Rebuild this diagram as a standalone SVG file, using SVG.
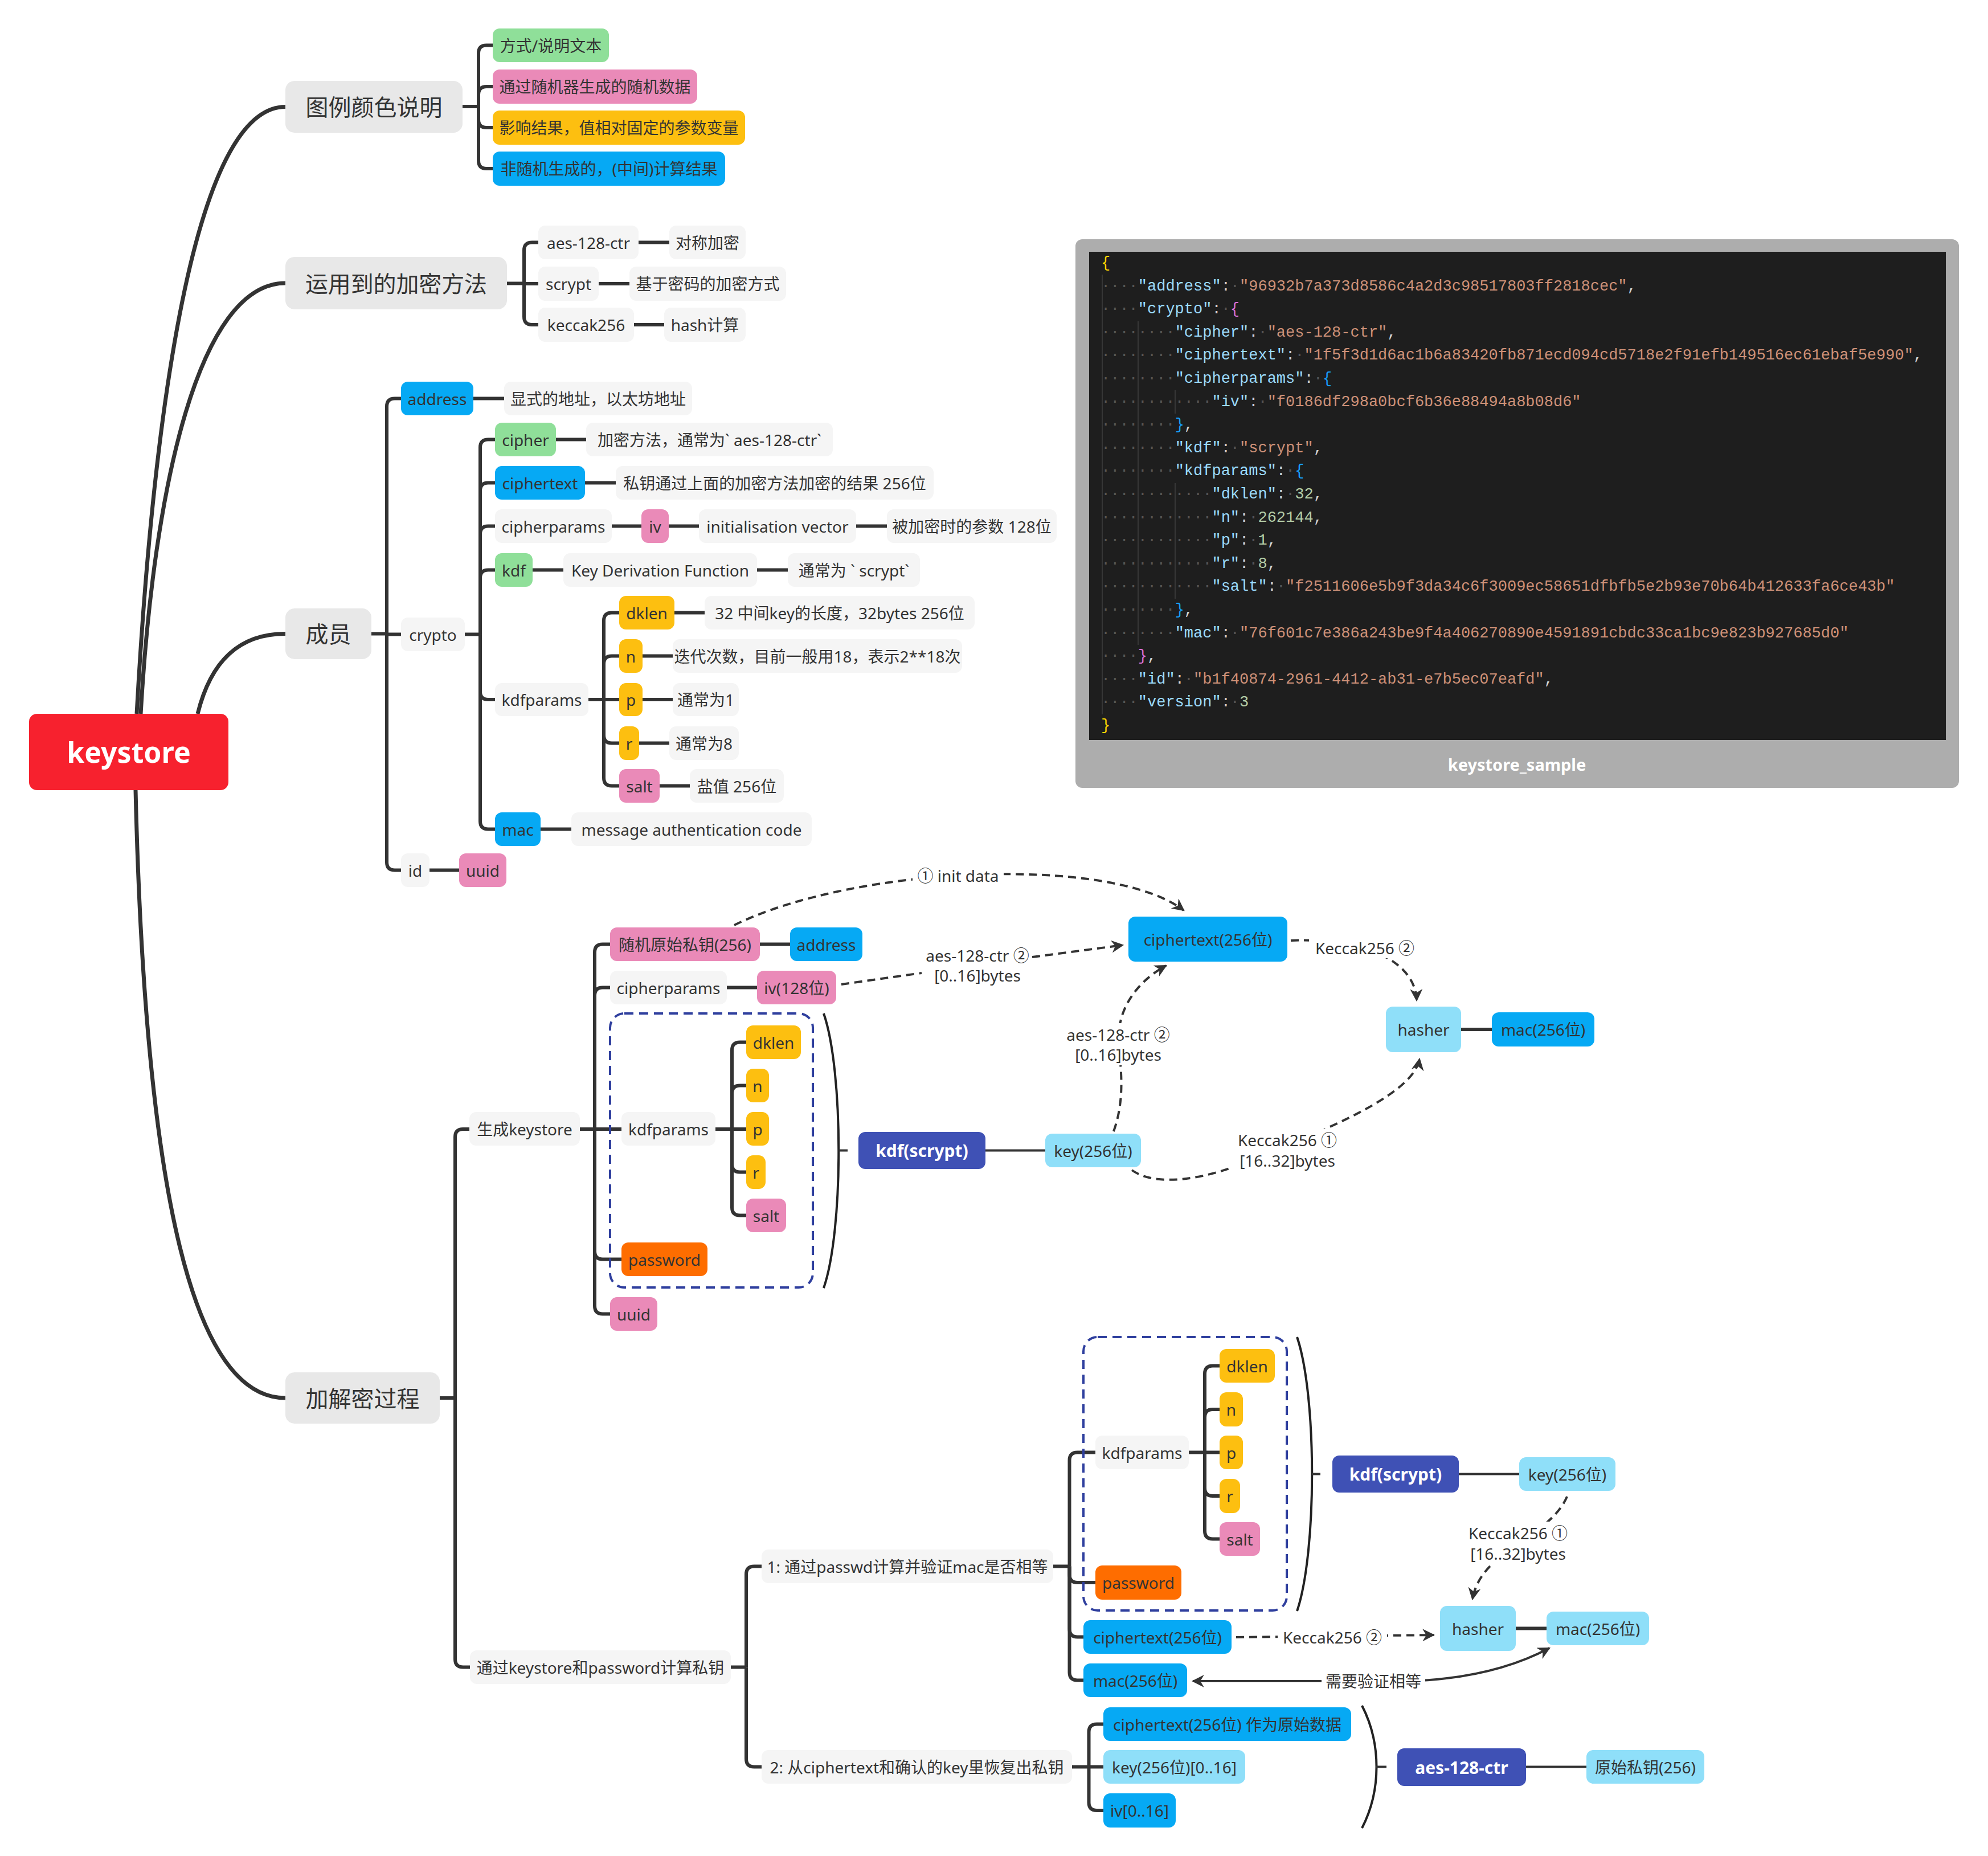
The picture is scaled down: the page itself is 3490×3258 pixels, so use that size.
<svg xmlns="http://www.w3.org/2000/svg" width="3490" height="3258" viewBox="0 0 3490 3258">
<defs>
<style>
.t{font-family:"Noto Sans","Noto Sans CJK SC",sans-serif;fill:#333;dominant-baseline:central;text-anchor:middle;font-size:28px}
.f40{font-size:40px}
.lb{font-family:"Noto Sans","Noto Sans CJK SC",sans-serif;fill:#333;dominant-baseline:central;text-anchor:middle;font-size:28px}
.wb{fill:#fff;font-weight:bold;font-size:30px}
.ln{fill:none;stroke:#333;stroke-width:6;stroke-linejoin:round}
.rt{fill:none;stroke:#333;stroke-width:7}
.th{fill:none;stroke:#333;stroke-width:4}
.ds{fill:none;stroke:#333;stroke-width:4;stroke-dasharray:14 9}
.par{fill:none;stroke:#222;stroke-width:4}
.box{fill:none;stroke:#2f3f9e;stroke-width:4;stroke-dasharray:16 10}
.bg{fill:#fff}
.cg{fill:#8fdf99}.cp{fill:#ea8ab8}.cy{fill:#fdbf10}.cb{fill:#06a9f4}.co{fill:#fe6d00}.clb{fill:#8fdff9}.ci{fill:#3f51b5}.cl{fill:#f5f5f5}.c1{fill:#e8e8e8}.cr{fill:#f7212e}
.code{font-family:"Liberation Mono","DejaVu Sans Mono",monospace;font-size:27px;dominant-baseline:central}
.k{fill:#9cdcfe}.s{fill:#ce9178}.n{fill:#b5cea8}.p{fill:#d4d4d4}.w{fill:#555}.by{fill:#ffd700}.bm{fill:#da70d6}.bb{fill:#179fff}
.gd{stroke:#404040;stroke-width:1.5}
</style>
<marker id="ah" viewBox="0 0 10 10" refX="9" refY="5" markerWidth="22" markerHeight="22" markerUnits="userSpaceOnUse" orient="auto-start-reverse"><path d="M0 0L10 5L0 10L3 5z" fill="#333"/></marker>
</defs>
<rect width="3490" height="3258" fill="#fff"/>

<g id="connectors">
<path class="rt" d="M240 1253C265 800 330 187.5 501 187.5"/>
<path class="rt" d="M247 1253C270 850 350 497 501 497"/>
<path class="rt" d="M347 1253C370 1160 420 1112.5 501 1112.5"/>
<path class="rt" d="M238 1387C255 2100 340 2454 501 2454"/>
<path class="ln" d="M812 187H840"/>
<path class="ln" d="M840 187V93.5Q840 79.5 854 79.5H865"/>
<path class="ln" d="M840 187V166Q840 152 854 152H865"/>
<path class="ln" d="M840 187V210Q840 224 854 224H865"/>
<path class="ln" d="M840 187V282Q840 296 854 296H865"/>
<path class="ln" d="M890 497.5H920"/>
<path class="ln" d="M920 497.5V439.5Q920 425.5 934 425.5H945"/>
<path class="ln" d="M920 498H945"/>
<path class="ln" d="M920 497.5V556Q920 570 934 570H945"/>
<path class="ln" d="M1121 425.5H1175M1051 498H1105M1113 570H1166"/>
<path class="ln" d="M652 1112.5H679"/>
<path class="ln" d="M679 1112.5V713.5Q679 699.5 693 699.5H704"/>
<path class="ln" d="M679 1113.5H704"/>
<path class="ln" d="M679 1112.5V1513.5Q679 1527.5 693 1527.5H704"/>
<path class="ln" d="M831 699.5H885M754 1527.5H806"/>
<path class="ln" d="M816 1113.5H843"/>
<path class="ln" d="M843 1113.5V785.5Q843 771.5 857 771.5H869"/>
<path class="ln" d="M843 1113.5V861.5Q843 847.5 857 847.5H869"/>
<path class="ln" d="M843 1113.5V937.5Q843 923.5 857 923.5H869"/>
<path class="ln" d="M843 1113.5V1014.5Q843 1000.5 857 1000.5H869"/>
<path class="ln" d="M843 1113.5V1214Q843 1228 857 1228H869"/>
<path class="ln" d="M843 1113.5V1441.5Q843 1455.5 857 1455.5H869"/>
<path class="ln" d="M976 771.5H1029M1027 847.5H1081M1074 923.5H1126M1174 923.5H1227M1503 923.5H1557M935 1000.5H989M1329 1000.5H1383M949 1455.5H1003"/>
<path class="ln" d="M1033 1228H1060"/>
<path class="ln" d="M1060 1228V1089.5Q1060 1075.5 1074 1075.5H1087"/>
<path class="ln" d="M1060 1228V1165.5Q1060 1151.5 1074 1151.5H1087"/>
<path class="ln" d="M1060 1228H1087"/>
<path class="ln" d="M1060 1228V1290.5Q1060 1304.5 1074 1304.5H1087"/>
<path class="ln" d="M1060 1228V1365.5Q1060 1379.5 1074 1379.5H1087"/>
<path class="ln" d="M1184 1075.5H1237M1128 1151.5H1181M1128 1228H1181M1122 1304.5H1175M1158 1379.5H1211"/>
<path class="ln" d="M772 2454H799"/>
<path class="ln" d="M799 2454V1996Q799 1982 813 1982H824"/>
<path class="ln" d="M799 2454V2912.5Q799 2926.5 813 2926.5H825"/>
<path class="ln" d="M1018 1982H1044"/>
<path class="ln" d="M1044 1982V1671.5Q1044 1657.5 1058 1657.5H1071"/>
<path class="ln" d="M1044 1982V1747.5Q1044 1733.5 1058 1733.5H1071"/>
<path class="ln" d="M1044 1982H1091"/>
<path class="ln" d="M1044 1982V2196.5Q1044 2210.5 1058 2210.5H1091"/>
<path class="ln" d="M1044 1982V2292.5Q1044 2306.5 1058 2306.5H1071"/>
<path class="ln" d="M1334 1657.5H1387M1276 1733.5H1329"/>
<path class="ln" d="M1256 1982H1285"/>
<path class="ln" d="M1285 1982V1843.5Q1285 1829.5 1299 1829.5H1310"/>
<path class="ln" d="M1285 1982V1919.5Q1285 1905.5 1299 1905.5H1310"/>
<path class="ln" d="M1285 1982H1310"/>
<path class="ln" d="M1285 1982V2043.5Q1285 2057.5 1299 2057.5H1310"/>
<path class="ln" d="M1285 1982V2119.5Q1285 2133.5 1299 2133.5H1310"/>
<path class="par" d="M1446 1779C1481 1880 1481 2160 1446 2261"/>
<path class="th" d="M1472 2019.5H1488"/>
<path class="th" d="M1730 2019.5H1835"/>
<path class="ln" d="M2565 1807H2619"/>
<path class="ln" d="M1283 2926.5H1310"/>
<path class="ln" d="M1310 2926.5V2763.5Q1310 2749.5 1324 2749.5H1337"/>
<path class="ln" d="M1310 2926.5V3087.5Q1310 3101.5 1324 3101.5H1337"/>
<path class="ln" d="M1849 2749.5H1877.5"/>
<path class="ln" d="M1877.5 2749.5V2563.5Q1877.5 2549.5 1891.5 2549.5H1923"/>
<path class="ln" d="M1877.5 2749.5V2764Q1877.5 2778 1891.5 2778H1923"/>
<path class="ln" d="M1877.5 2749.5V2859.5Q1877.5 2873.5 1891.5 2873.5H1902"/>
<path class="ln" d="M1877.5 2749.5V2935.5Q1877.5 2949.5 1891.5 2949.5H1902"/>
<path class="ln" d="M2087 2549.5H2115"/>
<path class="ln" d="M2115 2549.5V2411.5Q2115 2397.5 2129 2397.5H2141"/>
<path class="ln" d="M2115 2549.5V2488Q2115 2474 2129 2474H2141"/>
<path class="ln" d="M2115 2549.5H2141"/>
<path class="ln" d="M2115 2549.5V2612Q2115 2626 2129 2626H2141"/>
<path class="ln" d="M2115 2549.5V2687.5Q2115 2701.5 2129 2701.5H2141"/>
<path class="par" d="M2277 2347C2312 2450 2312 2725 2277 2828"/>
<path class="th" d="M2303 2587.5H2318"/>
<path class="th" d="M2561 2587.5H2667"/>
<path class="ln" d="M2661 2858.5H2715"/>
<path class="ln" d="M1882 3101.5H1911.5"/>
<path class="ln" d="M1911.5 3101.5V3040.5Q1911.5 3026.5 1925.5 3026.5H1937"/>
<path class="ln" d="M1911.5 3101.5H1937"/>
<path class="ln" d="M1911.5 3101.5V3164Q1911.5 3178 1925.5 3178H1937"/>
<path class="par" d="M2391 2994C2425 3060 2425 3143 2391 3209"/>
<path class="th" d="M2416 3101.5H2434"/>
<path class="th" d="M2679 3101.5H2785"/>
<path class="ds" d="M1289 1624C1500 1520 1950 1500 2078 1598" marker-end="url(#ah)"/>
<rect class="bg" x="1602" y="1517" width="160" height="40"/>
<text class="lb" x="1682" y="1537">① init data</text>
<path class="ds" d="M1477 1728L1618 1708"/>
<path class="ds" d="M1812 1680L1971 1659" marker-end="url(#ah)"/>
<text class="lb" x="1716" y="1677">aes-128-ctr ②</text>
<text class="lb" x="1716" y="1712">[0..16]bytes</text>
<path class="ds" d="M1955 1986C1975 1930 1968 1880 1964 1830C1960 1760 2010 1715 2047 1695" marker-end="url(#ah)"/>
<rect class="bg" x="1860" y="1796" width="205" height="74"/>
<text class="lb" x="1963" y="1816">aes-128-ctr ②</text>
<text class="lb" x="1963" y="1851">[0..16]bytes</text>
<path class="ds" d="M2266 1651C2400 1645 2485 1690 2487 1756" marker-end="url(#ah)"/>
<rect class="bg" x="2298" y="1645" width="196" height="37"/>
<text class="lb" x="2396" y="1664">Keccak256 ②</text>
<path class="ds" d="M1987 2054C2030 2085 2120 2070 2200 2035S2480 1930 2492 1859" marker-end="url(#ah)"/>
<rect class="bg" x="2160" y="1981" width="200" height="75"/>
<text class="lb" x="2260" y="2001">Keccak256 ①</text>
<text class="lb" x="2260" y="2037">[16..32]bytes</text>
<path class="ds" d="M2751 2627C2720 2700 2600 2720 2585 2807" marker-end="url(#ah)"/>
<rect class="bg" x="2570" y="2671" width="190" height="74"/>
<text class="lb" x="2665" y="2691">Keccak256 ①</text>
<text class="lb" x="2665" y="2727">[16..32]bytes</text>
<path class="ds" d="M2170 2874L2517 2870" marker-end="url(#ah)"/>
<rect class="bg" x="2243" y="2855" width="192" height="38"/>
<text class="lb" x="2339" y="2874">Keccak256 ②</text>
<path class="th" d="M2094 2951H2470C2580 2948 2660 2925 2720 2893" marker-start="url(#ah)" marker-end="url(#ah)"/>
<rect class="bg" x="2320" y="2931" width="182" height="40"/>
<text class="lb" x="2411" y="2951">需要验证相等</text>
</g>

<g id="n-root"><rect class="cr" x="51" y="1253" width="350" height="134" rx="14"/><text class="t" x="226" y="1320" style="fill:#fff;font-weight:bold;font-size:50px">keystore</text></g>

<g id="n-legend"><rect class="c1" x="501" y="142" width="311" height="91" rx="16"/><text class="t f40" x="656.5" y="187.5">图例颜色说明</text></g>
<g id="n-methods"><rect class="c1" x="501" y="451" width="389" height="92" rx="16"/><text class="t f40" x="695.5" y="497" textLength="319" lengthAdjust="spacing">运用到的加密方法</text></g>
<g id="n-members"><rect class="c1" x="501" y="1068" width="151" height="89" rx="16"/><text class="t f40" x="576.5" y="1112.5">成员</text></g>
<g id="n-process"><rect class="c1" x="501" y="2409" width="271" height="90" rx="16"/><text class="t f40" x="636.5" y="2454">加解密过程</text></g>

<g id="n-lg1"><rect class="cg" x="865" y="50" width="204" height="59" rx="12"/><text class="t" x="967" y="79.5">方式/说明文本</text></g>
<g id="n-lg2"><rect class="cp" x="865" y="122" width="359" height="60" rx="12"/><text class="t" x="1044.5" y="152">通过随机器生成的随机数据</text></g>
<g id="n-lg3"><rect class="cy" x="865" y="194" width="443" height="60" rx="12"/><text class="t" x="1086.5" y="224">影响结果，值相对固定的参数变量</text></g>
<g id="n-lg4"><rect class="cb" x="865" y="266" width="408" height="60" rx="12"/><text class="t" x="1069" y="296">非随机生成的，(中间)计算结果</text></g>

<g id="n-m-aes"><rect class="cl" x="945" y="396" width="176" height="59" rx="12"/><text class="t" x="1033" y="425.5">aes-128-ctr</text></g>
<g id="n-m-aes-d"><rect class="cl" x="1175" y="396" width="134" height="59" rx="12"/><text class="t" x="1242" y="425.5">对称加密</text></g>
<g id="n-m-scrypt"><rect class="cl" x="945" y="468" width="106" height="60" rx="12"/><text class="t" x="998" y="498">scrypt</text></g>
<g id="n-m-scrypt-d"><rect class="cl" x="1105" y="468" width="275" height="60" rx="12"/><text class="t" x="1242.5" y="498">基于密码的加密方式</text></g>
<g id="n-m-keccak"><rect class="cl" x="945" y="540" width="168" height="60" rx="12"/><text class="t" x="1029" y="570">keccak256</text></g>
<g id="n-m-keccak-d"><rect class="cl" x="1166" y="540" width="143" height="60" rx="12"/><text class="t" x="1237.5" y="570">hash计算</text></g>

<g id="n-address"><rect class="cb" x="704" y="670" width="127" height="59" rx="12"/><text class="t" x="767.5" y="699.5">address</text></g>
<g id="n-address-d"><rect class="cl" x="885" y="670" width="330" height="59" rx="12"/><text class="t" x="1050" y="699.5">显式的地址，以太坊地址</text></g>
<g id="n-crypto"><rect class="cl" x="704" y="1084" width="112" height="59" rx="12"/><text class="t" x="760" y="1113.5">crypto</text></g>
<g id="n-id"><rect class="cl" x="704" y="1498" width="50" height="59" rx="12"/><text class="t" x="729" y="1527.5">id</text></g>
<g id="n-uuid"><rect class="cp" x="806" y="1498" width="83" height="59" rx="12"/><text class="t" x="847.5" y="1527.5">uuid</text></g>

<g id="n-cipher"><rect class="cg" x="869" y="742" width="107" height="59" rx="12"/><text class="t" x="922.5" y="771.5">cipher</text></g>
<g id="n-cipher-d"><rect class="cl" x="1029" y="742" width="433" height="59" rx="12"/><text class="t" x="1245.5" y="771.5">加密方法，通常为` aes-128-ctr`</text></g>
<g id="n-ciphertext"><rect class="cb" x="869" y="818" width="158" height="59" rx="12"/><text class="t" x="948" y="847.5">ciphertext</text></g>
<g id="n-ciphertext-d"><rect class="cl" x="1081" y="818" width="558" height="59" rx="12"/><text class="t" x="1360" y="847.5">私钥通过上面的加密方法加密的结果 256位</text></g>
<g id="n-cipherparams"><rect class="cl" x="869" y="894" width="205" height="59" rx="12"/><text class="t" x="971.5" y="923.5">cipherparams</text></g>
<g id="n-iv"><rect class="cp" x="1126" y="894" width="48" height="59" rx="12"/><text class="t" x="1150" y="923.5">iv</text></g>
<g id="n-iv-d"><rect class="cl" x="1227" y="894" width="276" height="59" rx="12"/><text class="t" x="1365" y="923.5">initialisation vector</text></g>
<g id="n-iv-d2"><rect class="cl" x="1557" y="894" width="298" height="59" rx="12"/><text class="t" x="1706" y="923.5">被加密时的参数 128位</text></g>
<g id="n-kdf"><rect class="cg" x="869" y="971" width="66" height="59" rx="12"/><text class="t" x="902" y="1000.5">kdf</text></g>
<g id="n-kdf-d"><rect class="cl" x="989" y="971" width="340" height="59" rx="12"/><text class="t" x="1159" y="1000.5">Key Derivation Function</text></g>
<g id="n-kdf-d2"><rect class="cl" x="1383" y="971" width="232" height="59" rx="12"/><text class="t" x="1499" y="1000.5">通常为 ` scrypt`</text></g>
<g id="n-kdfparams"><rect class="cl" x="869" y="1199" width="164" height="58" rx="12"/><text class="t" x="951" y="1228">kdfparams</text></g>
<g id="n-mac"><rect class="cb" x="869" y="1426" width="80" height="59" rx="12"/><text class="t" x="909" y="1455.5">mac</text></g>
<g id="n-mac-d"><rect class="cl" x="1003" y="1426" width="422" height="59" rx="12"/><text class="t" x="1214" y="1455.5">message authentication code</text></g>
<g id="n-dklen"><rect class="cy" x="1087" y="1046" width="97" height="59" rx="12"/><text class="t" x="1135.5" y="1075.5">dklen</text></g>
<g id="n-dklen-d"><rect class="cl" x="1237" y="1046" width="474" height="59" rx="12"/><text class="t" x="1474" y="1075.5">32 中间key的长度，32bytes 256位</text></g>
<g id="n-n"><rect class="cy" x="1087" y="1122" width="41" height="59" rx="12"/><text class="t" x="1107.5" y="1151.5">n</text></g>
<g id="n-n-d"><rect class="cl" x="1181" y="1122" width="508" height="59" rx="12"/><text class="t" x="1435" y="1151.5">迭代次数，目前一般用18，表示2**18次</text></g>
<g id="n-p"><rect class="cy" x="1087" y="1199" width="41" height="58" rx="12"/><text class="t" x="1107.5" y="1228">p</text></g>
<g id="n-p-d"><rect class="cl" x="1181" y="1199" width="116" height="58" rx="12"/><text class="t" x="1239" y="1228">通常为1</text></g>
<g id="n-r"><rect class="cy" x="1087" y="1275" width="35" height="59" rx="12"/><text class="t" x="1104.5" y="1304.5">r</text></g>
<g id="n-r-d"><rect class="cl" x="1175" y="1275" width="122" height="59" rx="12"/><text class="t" x="1236" y="1304.5">通常为8</text></g>
<g id="n-salt"><rect class="cp" x="1087" y="1350" width="71" height="59" rx="12"/><text class="t" x="1122.5" y="1379.5">salt</text></g>
<g id="n-salt-d"><rect class="cl" x="1211" y="1350" width="165" height="59" rx="12"/><text class="t" x="1293.5" y="1379.5">盐值 256位</text></g>

<g id="n-gen"><rect class="cl" x="824" y="1952" width="194" height="59" rx="12"/><text class="t" x="921" y="1981.5">生成keystore</text></g>
<g id="n-g-priv"><rect class="cp" x="1071" y="1628" width="263" height="59" rx="12"/><text class="t" x="1202.5" y="1657.5">随机原始私钥(256)</text></g>
<g id="n-g-address"><rect class="cb" x="1387" y="1628" width="127" height="59" rx="12"/><text class="t" x="1450.5" y="1657.5">address</text></g>
<g id="n-g-cp"><rect class="cl" x="1071" y="1704" width="205" height="59" rx="12"/><text class="t" x="1173.5" y="1733.5">cipherparams</text></g>
<g id="n-g-iv"><rect class="cp" x="1329" y="1704" width="139" height="59" rx="12"/><text class="t" x="1398.5" y="1733.5">iv(128位)</text></g>
<g id="n-g-box"><rect class="box" x="1071" y="1779" width="356" height="481" rx="25"/></g>
<g id="n-g-kdfp"><rect class="cl" x="1091" y="1952" width="165" height="59" rx="12"/><text class="t" x="1173.5" y="1981.5">kdfparams</text></g>
<g id="n-g-dklen"><rect class="cy" x="1310" y="1800" width="96" height="59" rx="12"/><text class="t" x="1358" y="1829.5">dklen</text></g>
<g id="n-g-n"><rect class="cy" x="1310" y="1876" width="40" height="59" rx="12"/><text class="t" x="1330" y="1905.5">n</text></g>
<g id="n-g-p"><rect class="cy" x="1310" y="1952" width="40" height="59" rx="12"/><text class="t" x="1330" y="1981.5">p</text></g>
<g id="n-g-r"><rect class="cy" x="1310" y="2028" width="34" height="59" rx="12"/><text class="t" x="1327" y="2057.5">r</text></g>
<g id="n-g-salt"><rect class="cp" x="1310" y="2104" width="70" height="59" rx="12"/><text class="t" x="1345" y="2133.5">salt</text></g>
<g id="n-g-pwd"><rect class="co" x="1091" y="2181" width="151" height="59" rx="12"/><text class="t" x="1166.5" y="2210.5">password</text></g>
<g id="n-g-uuid"><rect class="cp" x="1071" y="2277" width="83" height="59" rx="12"/><text class="t" x="1112.5" y="2306.5">uuid</text></g>
<g id="n-g-kdf"><rect class="ci" x="1507" y="1987" width="223" height="65" rx="12"/><text class="t wb" x="1618.5" y="2019.5">kdf(scrypt)</text></g>
<g id="n-g-key"><rect class="clb" x="1835" y="1990" width="168" height="59" rx="12"/><text class="t" x="1919" y="2019.5">key(256位)</text></g>
<g id="n-g-ct"><rect class="cb" x="1981" y="1609" width="279" height="79" rx="12"/><text class="t" x="2120.5" y="1648.5">ciphertext(256位)</text></g>
<g id="n-g-hasher"><rect class="clb" x="2433" y="1767" width="132" height="80" rx="12"/><text class="t" x="2499" y="1807">hasher</text></g>
<g id="n-g-mac"><rect class="cb" x="2619" y="1777" width="180" height="60" rx="12"/><text class="t" x="2709" y="1807">mac(256位)</text></g>

<g id="n-dec"><rect class="cl" x="825" y="2897" width="458" height="59" rx="12"/><text class="t" x="1054" y="2926.5">通过keystore和password计算私钥</text></g>
<g id="n-d1"><rect class="cl" x="1337" y="2720" width="512" height="59" rx="12"/><text class="t" x="1593" y="2749.5">1: 通过passwd计算并验证mac是否相等</text></g>
<g id="n-d2"><rect class="cl" x="1337" y="3072" width="545" height="59" rx="12"/><text class="t" x="1609.5" y="3101.5">2: 从ciphertext和确认的key里恢复出私钥</text></g>
<g id="n-d-box"><rect class="box" x="1902" y="2347" width="357" height="480" rx="25"/></g>
<g id="n-d-kdfp"><rect class="cl" x="1923" y="2520" width="164" height="59" rx="12"/><text class="t" x="2005" y="2549.5">kdfparams</text></g>
<g id="n-d-dklen"><rect class="cy" x="2141" y="2368" width="97" height="59" rx="12"/><text class="t" x="2189.5" y="2397.5">dklen</text></g>
<g id="n-d-n"><rect class="cy" x="2141" y="2444" width="41" height="60" rx="12"/><text class="t" x="2161.5" y="2474">n</text></g>
<g id="n-d-p"><rect class="cy" x="2141" y="2520" width="41" height="59" rx="12"/><text class="t" x="2161.5" y="2549.5">p</text></g>
<g id="n-d-r"><rect class="cy" x="2141" y="2596" width="36" height="60" rx="12"/><text class="t" x="2159" y="2626">r</text></g>
<g id="n-d-salt"><rect class="cp" x="2141" y="2672" width="71" height="59" rx="12"/><text class="t" x="2176.5" y="2701.5">salt</text></g>
<g id="n-d-pwd"><rect class="co" x="1923" y="2748" width="151" height="60" rx="12"/><text class="t" x="1998.5" y="2778">password</text></g>
<g id="n-d-ct"><rect class="cb" x="1902" y="2844" width="260" height="59" rx="12"/><text class="t" x="2032" y="2873.5">ciphertext(256位)</text></g>
<g id="n-d-mac"><rect class="cb" x="1902" y="2920" width="182" height="59" rx="12"/><text class="t" x="1993" y="2949.5">mac(256位)</text></g>
<g id="n-d-kdf"><rect class="ci" x="2339" y="2555" width="222" height="65" rx="12"/><text class="t wb" x="2450" y="2587.5">kdf(scrypt)</text></g>
<g id="n-d-key"><rect class="clb" x="2667" y="2558" width="169" height="59" rx="12"/><text class="t" x="2751.5" y="2587.5">key(256位)</text></g>
<g id="n-d-hasher"><rect class="clb" x="2528" y="2819" width="133" height="79" rx="12"/><text class="t" x="2594.5" y="2858.5">hasher</text></g>
<g id="n-d-mac2"><rect class="clb" x="2715" y="2829" width="180" height="59" rx="12"/><text class="t" x="2805" y="2858.5">mac(256位)</text></g>
<g id="n-r-ct"><rect class="cb" x="1937" y="2997" width="435" height="59" rx="12"/><text class="t" x="2154.5" y="3026.5">ciphertext(256位) 作为原始数据</text></g>
<g id="n-r-key"><rect class="clb" x="1937" y="3072" width="249" height="59" rx="12"/><text class="t" x="2061.5" y="3101.5">key(256位)[0..16]</text></g>
<g id="n-r-iv"><rect class="cb" x="1937" y="3148" width="127" height="60" rx="12"/><text class="t" x="2000.5" y="3178">iv[0..16]</text></g>
<g id="n-r-aes"><rect class="ci" x="2453" y="3069" width="226" height="66" rx="12"/><text class="t wb" x="2566" y="3102">aes-128-ctr</text></g>
<g id="n-r-priv"><rect class="clb" x="2785" y="3072" width="207" height="59" rx="12"/><text class="t" x="2888.5" y="3101.5">原始私钥(256)</text></g>

<g id="n-sample">
<rect x="1888" y="420" width="1551" height="963" rx="12" fill="#adadad"/>
<rect x="1912" y="442" width="1504" height="857" fill="#1e1e1e"/>
<line class="gd" x1="1935" y1="482" x2="1935" y2="1254"/>
<line class="gd" x1="1998" y1="564" x2="1998" y2="1132"/>
<line class="gd" x1="2063" y1="685" x2="2063" y2="726"/>
<line class="gd" x1="2063" y1="848" x2="2063" y2="1051"/>
<text class="code" x="1933" y="462"><tspan class="by">{</tspan></text>
<text class="code" x="1933" y="502.6"><tspan class="w">····</tspan><tspan class="k">"address"</tspan><tspan class="p">:</tspan><tspan class="w">·</tspan><tspan class="s">"96932b7a373d8586c4a2d3c98517803ff2818cec"</tspan><tspan class="p">,</tspan></text>
<text class="code" x="1933" y="543.2"><tspan class="w">····</tspan><tspan class="k">"crypto"</tspan><tspan class="p">:</tspan><tspan class="w">·</tspan><tspan class="bm">{</tspan></text>
<text class="code" x="1933" y="583.8"><tspan class="w">········</tspan><tspan class="k">"cipher"</tspan><tspan class="p">:</tspan><tspan class="w">·</tspan><tspan class="s">"aes-128-ctr"</tspan><tspan class="p">,</tspan></text>
<text class="code" x="1933" y="624.4"><tspan class="w">········</tspan><tspan class="k">"ciphertext"</tspan><tspan class="p">:</tspan><tspan class="w">·</tspan><tspan class="s">"1f5f3d1d6ac1b6a83420fb871ecd094cd5718e2f91efb149516ec61ebaf5e990"</tspan><tspan class="p">,</tspan></text>
<text class="code" x="1933" y="665"><tspan class="w">········</tspan><tspan class="k">"cipherparams"</tspan><tspan class="p">:</tspan><tspan class="w">·</tspan><tspan class="bb">{</tspan></text>
<text class="code" x="1933" y="705.6"><tspan class="w">············</tspan><tspan class="k">"iv"</tspan><tspan class="p">:</tspan><tspan class="w">·</tspan><tspan class="s">"f0186df298a0bcf6b36e88494a8b08d6"</tspan></text>
<text class="code" x="1933" y="746.2"><tspan class="w">········</tspan><tspan class="bb">}</tspan><tspan class="p">,</tspan></text>
<text class="code" x="1933" y="786.8"><tspan class="w">········</tspan><tspan class="k">"kdf"</tspan><tspan class="p">:</tspan><tspan class="w">·</tspan><tspan class="s">"scrypt"</tspan><tspan class="p">,</tspan></text>
<text class="code" x="1933" y="827.4"><tspan class="w">········</tspan><tspan class="k">"kdfparams"</tspan><tspan class="p">:</tspan><tspan class="w">·</tspan><tspan class="bb">{</tspan></text>
<text class="code" x="1933" y="868"><tspan class="w">············</tspan><tspan class="k">"dklen"</tspan><tspan class="p">:</tspan><tspan class="w">·</tspan><tspan class="n">32</tspan><tspan class="p">,</tspan></text>
<text class="code" x="1933" y="908.6"><tspan class="w">············</tspan><tspan class="k">"n"</tspan><tspan class="p">:</tspan><tspan class="w">·</tspan><tspan class="n">262144</tspan><tspan class="p">,</tspan></text>
<text class="code" x="1933" y="949.2"><tspan class="w">············</tspan><tspan class="k">"p"</tspan><tspan class="p">:</tspan><tspan class="w">·</tspan><tspan class="n">1</tspan><tspan class="p">,</tspan></text>
<text class="code" x="1933" y="989.8"><tspan class="w">············</tspan><tspan class="k">"r"</tspan><tspan class="p">:</tspan><tspan class="w">·</tspan><tspan class="n">8</tspan><tspan class="p">,</tspan></text>
<text class="code" x="1933" y="1030.4"><tspan class="w">············</tspan><tspan class="k">"salt"</tspan><tspan class="p">:</tspan><tspan class="w">·</tspan><tspan class="s">"f2511606e5b9f3da34c6f3009ec58651dfbfb5e2b93e70b64b412633fa6ce43b"</tspan></text>
<text class="code" x="1933" y="1071"><tspan class="w">········</tspan><tspan class="bb">}</tspan><tspan class="p">,</tspan></text>
<text class="code" x="1933" y="1111.6"><tspan class="w">········</tspan><tspan class="k">"mac"</tspan><tspan class="p">:</tspan><tspan class="w">·</tspan><tspan class="s">"76f601c7e386a243be9f4a406270890e4591891cbdc33ca1bc9e823b927685d0"</tspan></text>
<text class="code" x="1933" y="1152.2"><tspan class="w">····</tspan><tspan class="bm">}</tspan><tspan class="p">,</tspan></text>
<text class="code" x="1933" y="1192.8"><tspan class="w">····</tspan><tspan class="k">"id"</tspan><tspan class="p">:</tspan><tspan class="w">·</tspan><tspan class="s">"b1f40874-2961-4412-ab31-e7b5ec07eafd"</tspan><tspan class="p">,</tspan></text>
<text class="code" x="1933" y="1233.4"><tspan class="w">····</tspan><tspan class="k">"version"</tspan><tspan class="p">:</tspan><tspan class="w">·</tspan><tspan class="n">3</tspan></text>
<text class="code" x="1933" y="1274"><tspan class="by">}</tspan></text>
<text class="t" x="2663" y="1341" style="fill:#fff;font-weight:bold;font-size:29px">keystore_sample</text>
</g>
</svg>
